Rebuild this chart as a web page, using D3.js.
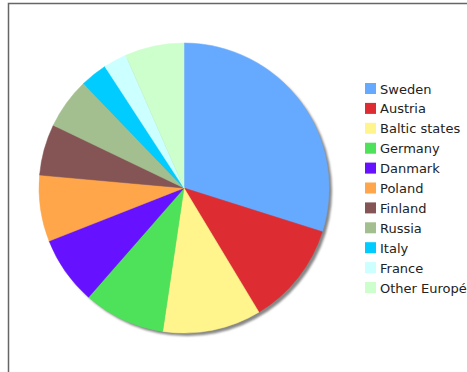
<!DOCTYPE html>
<html>
<head>
<meta charset="utf-8">
<script src="https://d3js.org/d3.v7.min.js"></script>
<style>
  body { margin: 0; background: #fff; }
  svg { display: block; }
</style>
</head>
<body>
<script>
// shares (percent)
var countries = ["Sweden", "Austria", "Baltic states", "Germany", "Danmark", "Poland",
                 "Finland", "Russia", "Italy", "France", "Other Européan"];
var shares = [29.9, 11.5, 11.0, 9.1, 7.6, 7.4, 5.7, 5.7, 3.0, 2.6, 6.6];
var colours = ["#66aaff", "#dd2d33", "#fff58c", "#4ee25a", "#6611ff", "#ffa64a",
               "#855555", "#a3bf8f", "#00ccff", "#ccffff", "#ccffcc"];

var width = 467, height = 372;
var cx = 184, cy = 188, radius = 145;

var svg = d3.select("body").append("svg")
  .attr("width", width)
  .attr("height", height);

/* frame, runs off the right and bottom edges */
svg.append("rect")
  .attr("x", 8.5).attr("y", 3.5)
  .attr("width", 600).attr("height", 600)
  .attr("fill", "none")
  .attr("stroke", "#666")
  .attr("stroke-width", 1.5);

var defs = svg.append("defs");
defs.append("filter").attr("id", "blur")
  .append("feGaussianBlur").attr("stdDeviation", 1.2);

var data = countries.map(function(c, i) { return { name: c, value: shares[i] }; });

var pie = d3.pie()
  .value(function(d) { return d.value; })
  .sort(null);

var arc = d3.arc().innerRadius(0).outerRadius(radius);

var g = svg.append("g").attr("transform", "translate(" + cx + "," + cy + ")");

/* drop shadow */
g.append("circle")
  .attr("cx", 3).attr("cy", 3)
  .attr("r", radius)
  .attr("fill", "#888")
  .attr("filter", "url(#blur)");

g.selectAll("path")
  .data(pie(data))
  .enter().append("path")
    .attr("d", arc)
    .attr("fill", function(d, i) { return colours[i]; })
    .attr("stroke", function(d, i) { return colours[i]; })
    .attr("stroke-width", 0.5);

/* legend (last label runs off the right edge, as in the original) */
var legend = svg.append("g").attr("transform", "translate(365,83)");
var row = legend.selectAll("g")
  .data(countries)
  .enter().append("g")
    .attr("transform", function(d, i) { return "translate(0," + (i * 19.9) + ")"; });

row.append("rect")
  .attr("width", 11).attr("height", 11)
  .attr("fill", function(d, i) { return colours[i]; });

row.append("text")
  .attr("x", 15).attr("y", 10.5)
  .attr("font-family", "DejaVu Sans, Verdana, sans-serif")
  .attr("font-size", 13)
  .attr("fill", "#222")
  .text(function(d) { return d; });
</script>
</body>
</html>
